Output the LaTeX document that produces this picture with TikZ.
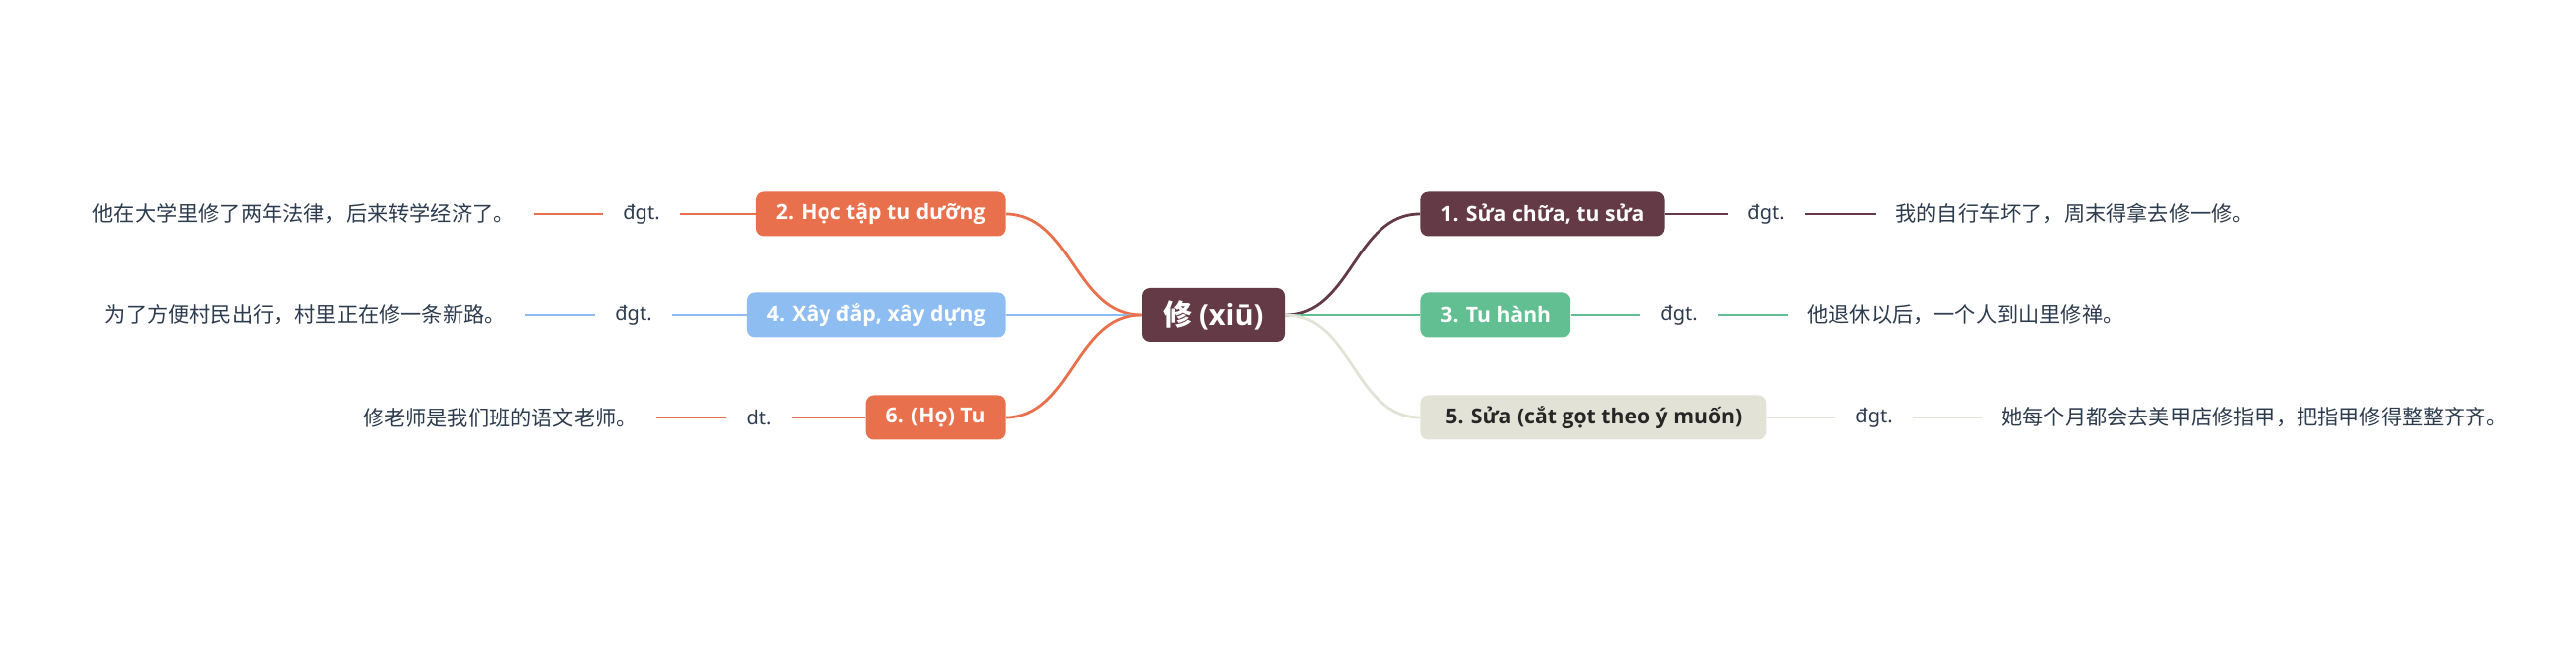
\documentclass[tikz,border=0pt]{standalone}
\usepackage{fontspec}
\setmainfont{Noto Sans}
\newfontfamily\heavy{Open Sans}
\newfontfamily\zh{Noto Sans CJK SC}

\definecolor{maroon}{HTML}{643A47}
\definecolor{coral}{HTML}{E8704C}
\definecolor{sky}{HTML}{8EBDF2}
\definecolor{mint}{HTML}{62BF92}
\definecolor{sand}{HTML}{E2E2D6}
\definecolor{ink}{HTML}{2D3B4E}

\tikzstyle{root}=[fill=maroon, text=white, rounded corners=4pt, minimum width=72pt, minimum height=27pt, font=\heavy\bfseries\fontsize{14.5}{18}\selectfont]
\tikzstyle{topic}=[text=white, rounded corners=4pt, minimum height=22.5pt, inner xsep=10pt, font=\heavy\bfseries\fontsize{10.6}{13}\selectfont]
\tikzstyle{kind}=[text=ink, inner xsep=10pt, font=\fontsize{10}{12}\selectfont]
\tikzstyle{sample}=[text=ink, inner xsep=9.5pt, font=\zh\fontsize{10.6}{12}\selectfont]
\tikzstyle{branch}=[line width=1.4pt]

\begin{document}
\begin{tikzpicture}[x=0.5pt, y=-0.5pt]
      \useasboundingbox (0, 0) rectangle (2590, 672);

      \node[root] (xiu) at (1220, 317) {{\zh\bfseries 修} (xiū)};

      \node[topic, fill=maroon, anchor=west] (n1) at (1428, 215) {1. Sửa chữa, tu sửa};
      \node[topic, fill=mint, anchor=west] (n3) at (1428, 317) {3. Tu hành};
      \node[topic, fill=sand, text=black!85, inner xsep=12.5pt, anchor=west] (n5) at (1428, 420) {5. Sửa (cắt gọt theo ý muốn)};
      \node[topic, fill=coral, anchor=east] (n2) at (1011, 215) {2. Học tập tu dưỡng};
      \node[topic, fill=sky, anchor=east] (n4) at (1011, 317) {4. Xây đắp, xây dựng};
      \node[topic, fill=coral, anchor=east] (n6) at (1011, 420) {6. (Họ) Tu};

      \node[kind] (k1) at (1776, 215) {đgt.};
      \node[kind] (k3) at (1688, 317) {đgt.};
      \node[kind] (k5) at (1884, 420) {đgt.};
      \node[kind] (k2) at (645, 215) {đgt.};
      \node[kind] (k4) at (637, 317) {đgt.};
      \node[kind] (k6) at (763, 420) {dt.};

      \node[sample, anchor=west] (s1) at (1886, 215) {我的自行车坏了，周末得拿去修一修。};
      \node[sample, anchor=west] (s3) at (1798, 317) {他退休以后，一个人到山里修禅。};
      \node[sample, anchor=west] (s5) at (1993, 420) {她每个月都会去美甲店修指甲，把指甲修得整整齐齐。};
      \node[sample, anchor=east] (s2) at (537, 215) {他在大学里修了两年法律，后来转学经济了。};
      \node[sample, anchor=east] (s4) at (528, 317) {为了方便村民出行，村里正在修一条新路。};
      \node[sample, anchor=east] (s6) at (660, 420) {修老师是我们班的语文老师。};

      \draw[branch, maroon] (xiu.east) to[out=0, in=180] (n1.west);
      \draw[branch, mint] (xiu.east) to (n3.west);
      \draw[branch, sand] (xiu.east) to[out=0, in=180] (n5.west);
      \draw[branch, coral] (xiu.west) to[out=180, in=0] (n2.east);
      \draw[branch, sky] (xiu.west) to (n4.east);
      \draw[branch, coral] (xiu.west) to[out=180, in=0] (n6.east);

      \draw[branch, maroon] (n1) to (k1);
      \draw[branch, maroon] (k1) to (s1);
      \draw[branch, mint] (n3) to (k3);
      \draw[branch, mint] (k3) to (s3);
      \draw[branch, sand] (n5) to (k5);
      \draw[branch, sand] (k5) to (s5);
      \draw[branch, coral] (n2) to (k2);
      \draw[branch, coral] (k2) to (s2);
      \draw[branch, sky] (n4) to (k4);
      \draw[branch, sky] (k4) to (s4);
      \draw[branch, coral] (n6) to (k6);
      \draw[branch, coral] (k6) to (s6);
    \end{tikzpicture}
\end{document}
